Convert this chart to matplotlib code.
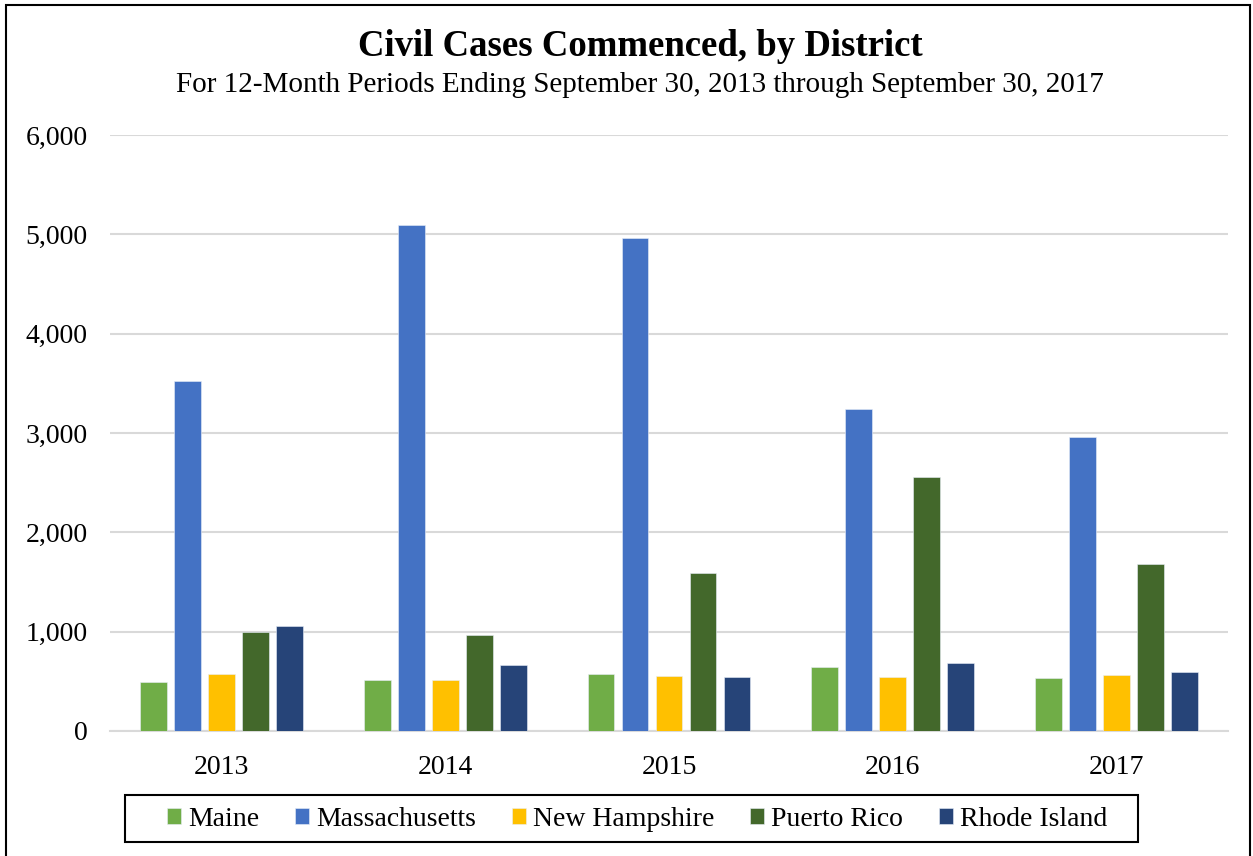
import matplotlib
matplotlib.use("Agg")
import matplotlib.pyplot as plt
import numpy as np
from matplotlib.patches import Rectangle

years = ["2013", "2014", "2015", "2016", "2017"]
districts = ["Maine", "Massachusetts", "New Hampshire", "Puerto Rico", "Rhode Island"]
maine = [490, 510, 572, 648, 532]
massachusetts = [3525, 5095, 4965, 3243, 2961]
new_hampshire = [573, 518, 552, 540, 568]
puerto_rico = [1000, 962, 1592, 2560, 1683]
rhode_island = [1062, 662, 542, 688, 592]
series = [maine, massachusetts, new_hampshire, puerto_rico, rhode_island]
colors = ["#70AD47", "#4472C4", "#FFC000", "#43682B", "#264478"]

plt.rcParams['font.family'] = 'Liberation Serif'

W, H = 1253, 856
fig = plt.figure(figsize=(W/100, H/100), dpi=100)
ax = fig.add_axes([110/W, 1-731/H, 1118/W, 596/H])

x = np.arange(len(years))
pitch = 0.152
width = 0.12
for i, (vals, c, name) in enumerate(zip(series, colors, districts)):
    ax.bar(x + (i-2)*pitch, vals, width, color=c, edgecolor="#E8EEF8", linewidth=0.4,
           label=name, zorder=3)

ax.set_xlim(-0.5, 4.5)
ax.set_ylim(0, 6000)
ax.set_yticks(np.arange(0, 6001, 1000))
ax.set_yticklabels([f"{v:,}" for v in range(0, 6001, 1000)])
ax.set_xticks(x)
ax.set_xticklabels(years)
ax.grid(axis='y', color="#D9D9D9", linewidth=1.5, zorder=0)
for s in ["top", "right", "left"]:
    ax.spines[s].set_visible(False)
ax.spines["bottom"].set_color("#D9D9D9")
ax.spines["bottom"].set_linewidth(1.5)
ax.tick_params(axis='both', length=0, labelsize=20)
ax.tick_params(axis='x', pad=17)
ax.tick_params(axis='y', pad=16)

fig.text(640/W, 1-47/H, "Civil Cases Commenced, by District", ha='center', va='center',
         fontsize=26.5, fontweight='bold')
fig.text(640/W, 1-85/H, "For 12-Month Periods Ending September 30, 2013 through September 30, 2017",
         ha='center', va='center', fontsize=21)

leg = fig.legend(loc='center', bbox_to_anchor=(637/W, 1-819/H), ncol=5,
                 prop={'family': 'Liberation Serif', 'size': 20},
                 frameon=False, handlelength=0.5,
                 handleheight=0.5, handletextpad=0.25, columnspacing=1.3, borderpad=0.4)

fig.patches.append(Rectangle((125/W, 1-842/H), 1013/W, 47/H, transform=fig.transFigure,
                             fill=False, edgecolor='black', linewidth=1.5))
fig.patches.append(Rectangle((6/W, -0.01), 1244/W, 1-5/H+0.01, transform=fig.transFigure,
                             fill=False, edgecolor='black', linewidth=1.5))

fig.savefig("out.png", dpi=100)
